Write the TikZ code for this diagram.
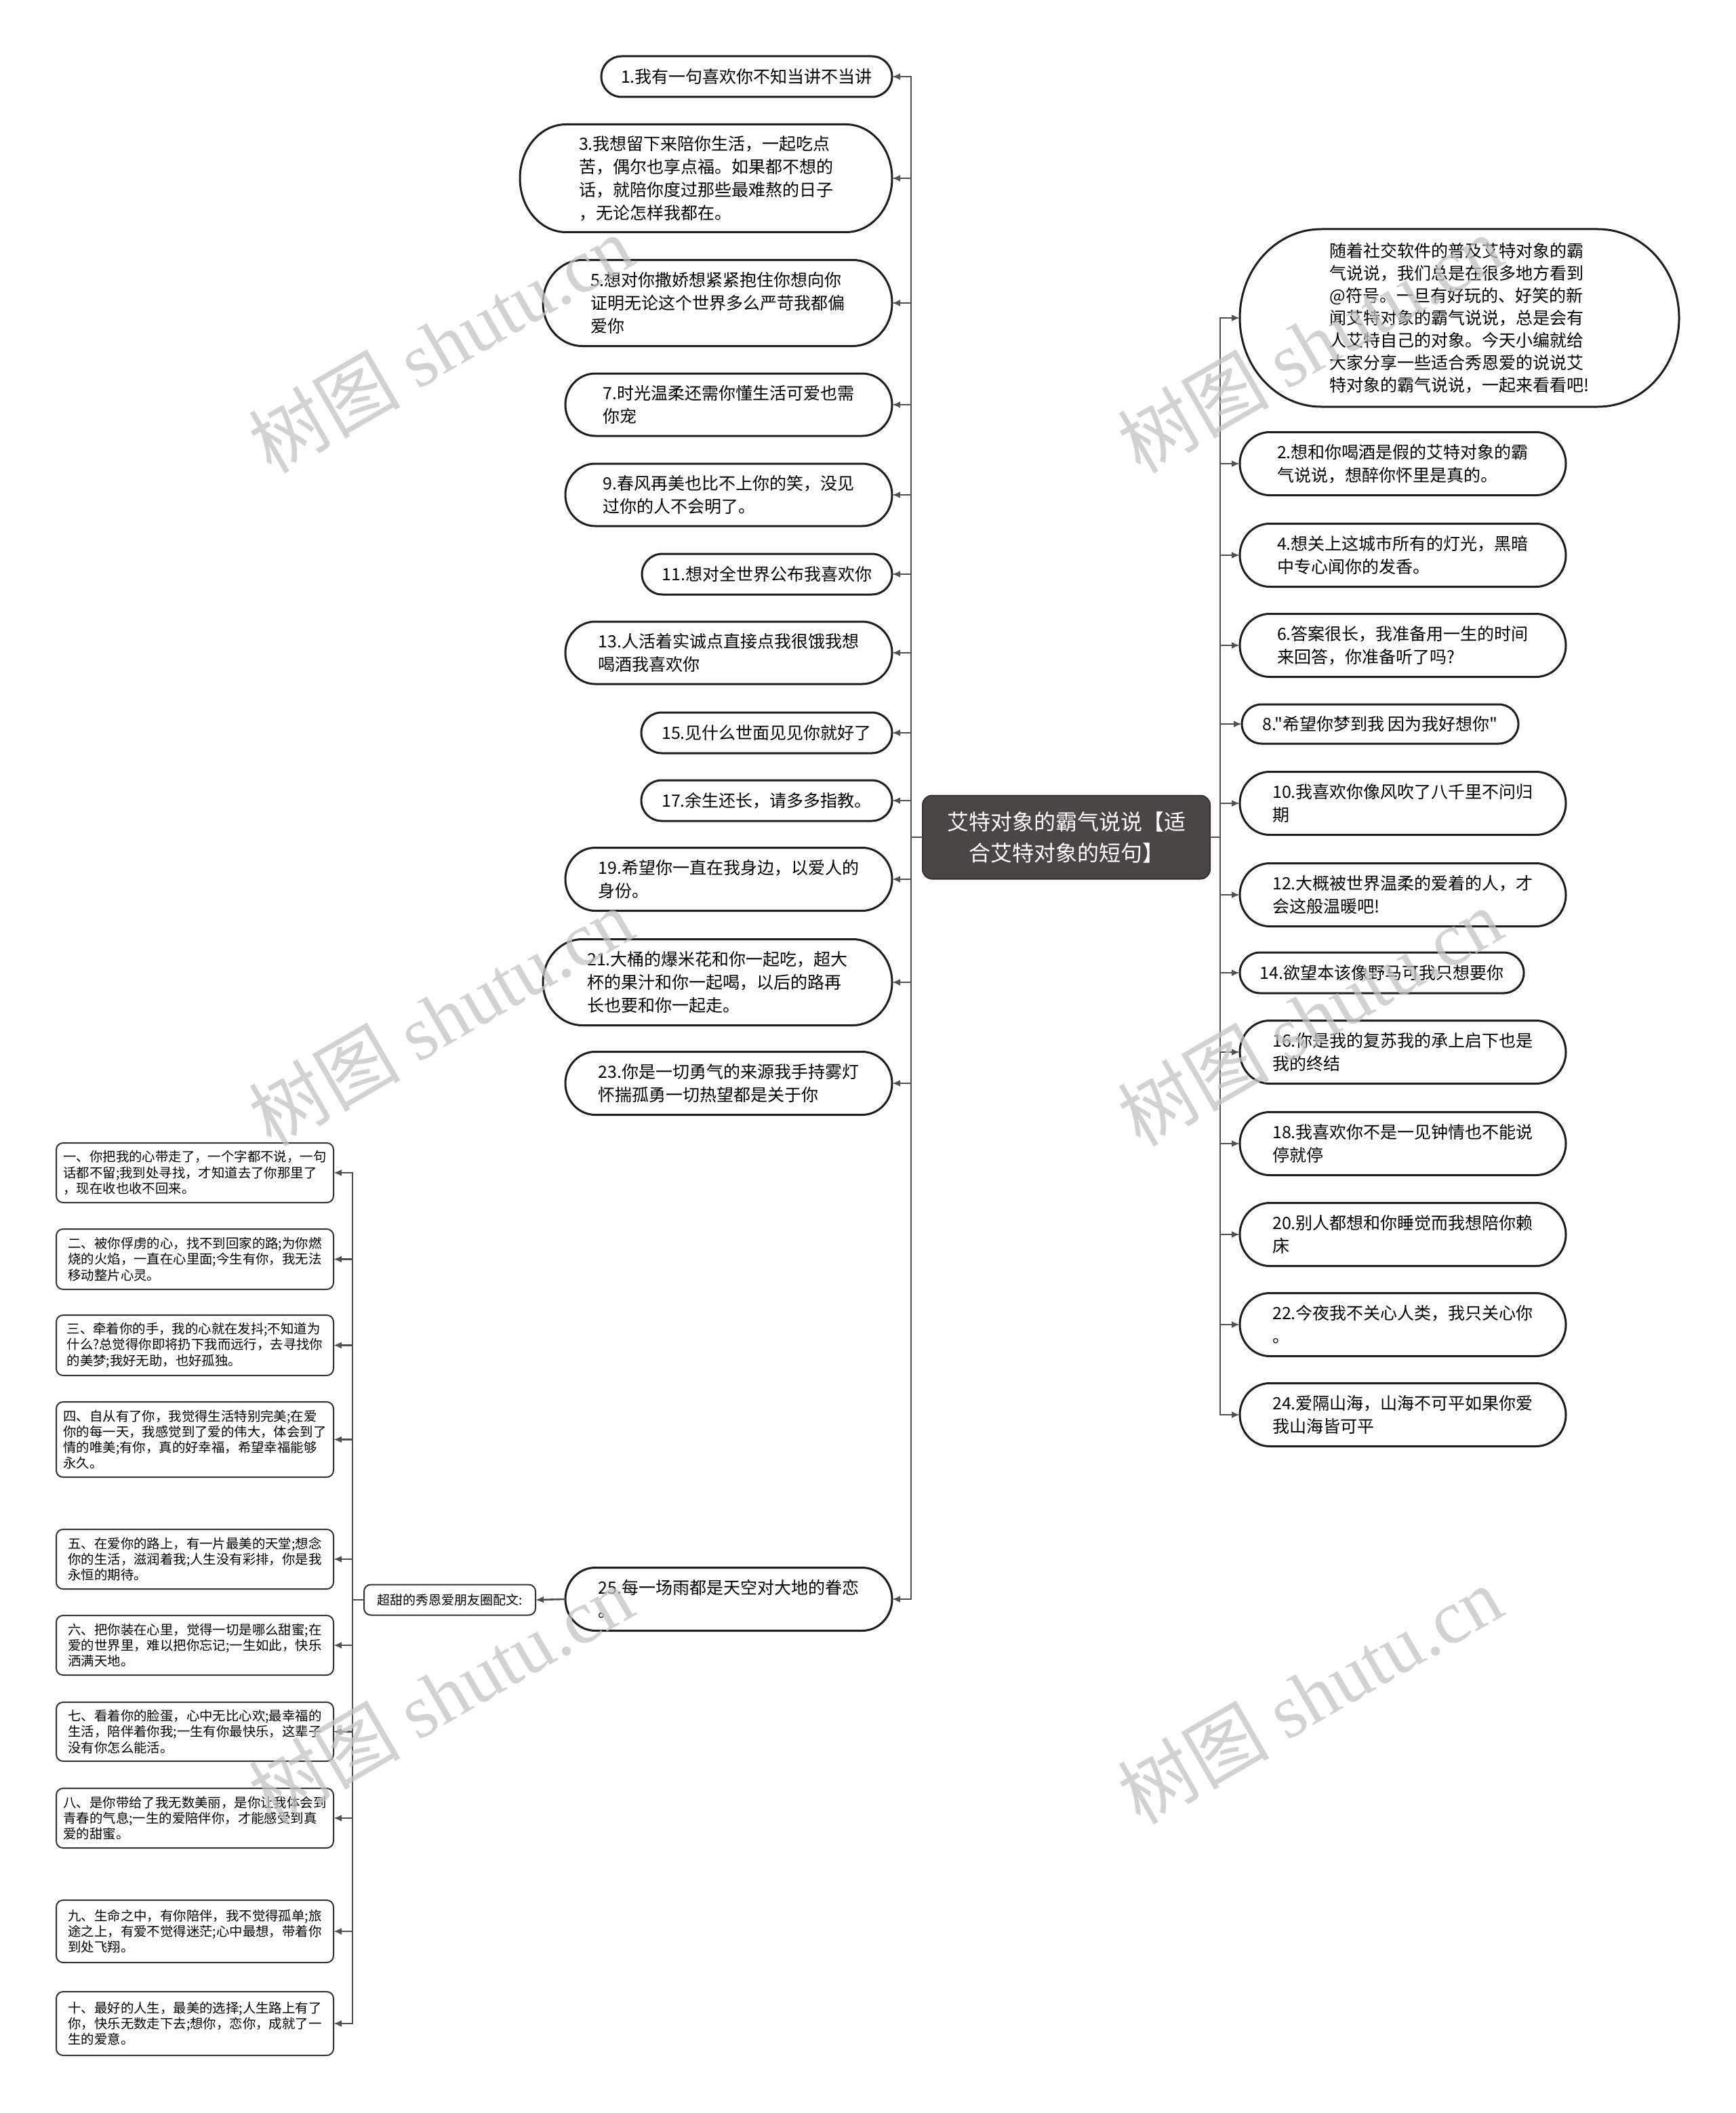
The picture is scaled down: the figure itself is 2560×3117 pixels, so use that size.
\documentclass[tikz,border=0pt]{standalone}
\usepackage{fontspec}
\setmainfont{Noto Sans CJK SC}[Ligatures=TeXOff]
\newfontfamily\wmserif{Liberation Serif}
\usetikzlibrary{arrows.meta}
\definecolor{linec}{HTML}{505050}
\definecolor{nodeb}{HTML}{1E1E1E}
\definecolor{boxb}{HTML}{333333}
\definecolor{ctrfill}{HTML}{4A4645}
\definecolor{wmc}{HTML}{C4C4C4}
\newcommand\mfont{\fontsize{25}{34}\selectfont}
\newcommand\boxfont{\fontsize{19.4}{23.3}\selectfont}
\newcommand\ctrfont{\fontsize{32}{46}\selectfont}
\newcommand\wmfont{\fontsize{112}{112}\selectfont}
\newcommand\stad[3]{\draw[stadl] ([xshift=#2pt]#1.north west) -- ([xshift=-#2pt]#1.north east) arc[start angle=90,end angle=-90,x radius=#2pt,y radius=#3pt] -- ([xshift=#2pt]#1.south west) arc[start angle=270,end angle=90,x radius=#2pt,y radius=#3pt] -- cycle;}
\begin{document}
\begin{tikzpicture}[x=1pt,y=-1pt,
  conn/.style={draw=linec, line width=2.6pt},
  arr/.style={conn, -{Latex[length=12pt,width=10pt]}},
  stadl/.style={draw=nodeb, line width=3pt},
  mnode/.style 2 args={minimum width=#1pt, minimum height=#2pt, inner sep=0pt, outer sep=0pt, align=left, font=\mfont},
  snode/.style={minimum width=409pt, minimum height=#1pt, inner sep=0pt, outer sep=0pt, align=left, font=\boxfont, draw=boxb, line width=2pt, rounded corners=10pt, fill=white},
  wm/.style={text=wmc, opacity=0.75, font=\wmfont, rotate=30, inner sep=0pt}
]
\useasboundingbox (0,0) rectangle (2560,3117);
\fill[white] (0,0) rectangle (2560,3117);

% central node
\node[minimum width=424pt, minimum height=123pt, inner sep=0pt, outer sep=0pt, fill=ctrfill, draw=ctrfill!70!black, line width=2pt, rounded corners=14pt, text=white, align=center, font=\ctrfont] (C) at (1573,1235) {艾特对象的霸气说说【适\\合艾特对象的短句】};

\coordinate (LT) at (1344,1235);
\coordinate (RT) at (1800,1235);
\coordinate (ST) at (520,2360);

% left nodes
\node[mnode={429}{60}] (n1) at (1101.5,113) {1.我有一句喜欢你不知当讲不当讲};
\node[mnode={549}{159}] (n3) at (1041.5,263) {3.我想留下来陪你生活，一起吃点\\苦，偶尔也享点福。如果都不想的\\话，就陪你度过那些最难熬的日子\\，无论怎样我都在。};
\node[mnode={515}{127}] (n5) at (1058.5,447) {5.想对你撒娇想紧紧抱住你想向你\\证明无论这个世界多么严苛我都偏\\爱你};
\node[mnode={482}{92}] (n7) at (1075,597) {7.时光温柔还需你懂生活可爱也需\\你宠};
\node[mnode={482}{92}] (n9) at (1075,730) {9.春风再美也比不上你的笑，没见\\过你的人不会明了。};
\node[mnode={369}{60}] (n11) at (1131.5,847) {11.想对全世界公布我喜欢你};
\node[mnode={482}{92}] (n13) at (1075,963) {13.人活着实诚点直接点我很饿我想\\喝酒我喜欢你};
\node[mnode={370}{60}] (n15) at (1131,1081) {15.见什么世面见见你就好了};
\node[mnode={370}{60}] (n17) at (1131,1181) {17.余生还长，请多多指教。};
\node[mnode={482}{93}] (n19) at (1075,1297) {19.希望你一直在我身边，以爱人的\\身份。};
\node[mnode={515}{127}] (n21) at (1058.5,1449) {21.大桶的爆米花和你一起吃，超大\\杯的果汁和你一起喝，以后的路再\\长也要和你一起走。};
\node[mnode={482}{93}] (n23) at (1075,1598) {23.你是一切勇气的来源我手持雾灯\\怀揣孤勇一切热望都是关于你};
\node[mnode={482}{93}] (n25) at (1075,2359) {25.每一场雨都是天空对大地的眷恋\\。};

% right nodes
\node[mnode={648}{262}, font=\fontsize{25}{33}\selectfont] (intro) at (2153,469) {随着社交软件的普及艾特对象的霸\\气说说，我们总是在很多地方看到\\@符号。一旦有好玩的、好笑的新\\闻艾特对象的霸气说说，总是会有\\人艾特自己的对象。今天小编就给\\大家分享一些适合秀恩爱的说说艾\\特对象的霸气说说，一起来看看吧!};
\node[mnode={481}{93}] (r2) at (2069.5,684) {2.想和你喝酒是假的艾特对象的霸\\气说说，想醉你怀里是真的。};
\node[mnode={481}{93}] (r4) at (2069.5,819) {4.想关上这城市所有的灯光，黑暗\\中专心闻你的发香。};
\node[mnode={481}{93}] (r6) at (2069.5,952) {6.答案很长，我准备用一生的时间\\来回答，你准备听了吗?};
\node[mnode={408}{58}] (r8) at (2036,1068) {8."希望你梦到我 因为我好想你"};
\node[mnode={481}{93}] (r10) at (2069.5,1185) {10.我喜欢你像风吹了八千里不问归\\期};
\node[mnode={481}{93}] (r12) at (2069.5,1320) {12.大概被世界温柔的爱着的人，才\\会这般温暖吧!};
\node[mnode={419}{60}] (r14) at (2038.5,1435) {14.欲望本该像野马可我只想要你};
\node[mnode={481}{93}] (r16) at (2069.5,1552) {16.你是我的复苏我的承上启下也是\\我的终结};
\node[mnode={481}{93}] (r18) at (2069.5,1687) {18.我喜欢你不是一见钟情也不能说\\停就停};
\node[mnode={481}{93}] (r20) at (2069.5,1821) {20.别人都想和你睡觉而我想陪你赖\\床};
\node[mnode={481}{93}] (r22) at (2069.5,1954) {22.今夜我不关心人类，我只关心你\\。};
\node[mnode={481}{93}] (r24) at (2069.5,2087) {24.爱隔山海，山海不可平如果你爱\\我山海皆可平};

% outlines of stadium nodes
\stad{n1}{30}{30}
\stad{n3}{68}{79.5}
\stad{n5}{58}{63.5}
\stad{n7}{44}{46}
\stad{n9}{44}{46}
\stad{n11}{30}{30}
\stad{n13}{44}{46}
\stad{n15}{30}{30}
\stad{n17}{30}{30}
\stad{n19}{44}{46.5}
\stad{n21}{58}{63.5}
\stad{n23}{44}{46.5}
\stad{n25}{44}{46.5}
\stad{intro}{120}{131}
\stad{r2}{44}{46.5}
\stad{r4}{44}{46.5}
\stad{r6}{44}{46.5}
\stad{r8}{29}{29}
\stad{r10}{44}{46.5}
\stad{r12}{44}{46.5}
\stad{r14}{30}{30}
\stad{r16}{44}{46.5}
\stad{r18}{44}{46.5}
\stad{r20}{44}{46.5}
\stad{r22}{44}{46.5}
\stad{r24}{44}{46.5}

% sub-branch
\node[minimum width=253pt, minimum height=45pt, inner sep=0pt, outer sep=0pt, draw=boxb, line width=2pt, rounded corners=10pt, font=\fontsize{19}{23}\selectfont] (sub) at (663.5,2360) {超甜的秀恩爱朋友圈配文:};

\node[snode=88] (b1) at (287.5,1730) {一、你把我的心带走了，一个字都不说，一句\\话都不留;我到处寻找，才知道去了你那里了\\，现在收也收不回来。};
\node[snode=89] (b2) at (287.5,1857.5) {二、被你俘虏的心，找不到回家的路;为你燃\\烧的火焰，一直在心里面;今生有你，我无法\\移动整片心灵。};
\node[snode=89] (b3) at (287.5,1984.5) {三、牵着你的手，我的心就在发抖;不知道为\\什么?总觉得你即将扔下我而远行，去寻找你\\的美梦;我好无助，也好孤独。};
\node[snode=111] (b4) at (287.5,2123.5) {四、自从有了你，我觉得生活特别完美;在爱\\你的每一天，我感觉到了爱的伟大，体会到了\\情的唯美;有你，真的好幸福，希望幸福能够\\永久。};
\node[snode=88] (b5) at (287.5,2300) {五、在爱你的路上，有一片最美的天堂;想念\\你的生活，滋润着我;人生没有彩排，你是我\\永恒的期待。};
\node[snode=88] (b6) at (287.5,2427) {六、把你装在心里，觉得一切是哪么甜蜜;在\\爱的世界里，难以把你忘记;一生如此，快乐\\洒满天地。};
\node[snode=87] (b7) at (287.5,2554.5) {七、看着你的脸蛋，心中无比心欢;最幸福的\\生活，陪伴着你我;一生有你最快乐，这辈子\\没有你怎么能活。};
\node[snode=88] (b8) at (287.5,2682) {八、是你带给了我无数美丽，是你让我体会到\\青春的气息;一生的爱陪伴你，才能感受到真\\爱的甜蜜。};
\node[snode=92] (b9) at (287.5,2849) {九、生命之中，有你陪伴，我不觉得孤单;旅\\途之上，有爱不觉得迷茫;心中最想，带着你\\到处飞翔。};
\node[snode=94] (b10) at (287.5,2985) {十、最好的人生，最美的选择;人生路上有了\\你，快乐无数走下去;想你，恋你，成就了一\\生的爱意。};

% connectors
\draw[conn] (C.west) -- (LT);
\draw[conn] (C.east) -- (RT);
\foreach \n in {n1,n3,n5,n7,n9,n11,n13,n15,n17,n19,n21,n23,n25}
  \draw[arr] (LT) |- (\n.east);
\foreach \n in {intro,r2,r4,r6,r8,r10,r12,r14,r16,r18,r20,r22,r24}
  \draw[arr] (RT) |- (\n.west);
\draw[arr] (n25.west) -- (sub.east);
\draw[conn] (sub.west) -- (ST);
\foreach \n in {b1,b2,b3,b4,b5,b6,b7,b8,b9,b10}
  \draw[arr] (ST) |- (\n.east);

% watermarks
\node[wm] (w1) at (650,507) {树图 {\wmserif shutu.cn}};
\node[wm] (w2) at (1932,507) {树图 {\wmserif shutu.cn}};
\node[wm] (w3) at (650,1500) {树图 {\wmserif shutu.cn}};
\node[wm] (w4) at (1932,1500) {树图 {\wmserif shutu.cn}};
\node[wm] (w5) at (650,2500) {树图 {\wmserif shutu.cn}};
\node[wm] (w6) at (1932,2500) {树图 {\wmserif shutu.cn}};
\end{tikzpicture}
\end{document}
